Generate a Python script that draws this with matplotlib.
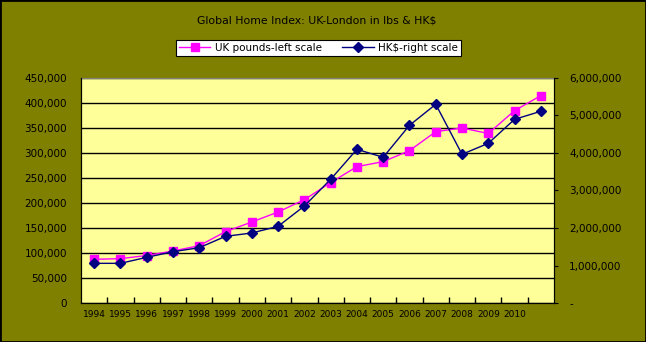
import matplotlib
matplotlib.use("Agg")
import matplotlib.pyplot as plt
import matplotlib.ticker as mticker
from matplotlib.patches import Rectangle

# ── data ─────────────────────────────────────────────────────
years = ['1994', '1995', '1996', '1997', '1998', '1999', '2000', '2001', '2002',
         '2003', '2004', '2005', '2006', '2007', '2008', '2009', '2010', '']
uk_pounds = [87400, 88700, 95000, 104000, 114700, 142700, 162000, 182000, 206700,
             240700, 272700, 282700, 304700, 342700, 350000, 339000, 384700, 414700]
hk_dollars = [1058000, 1058000, 1218000, 1368000, 1475000, 1778000, 1867000, 2045000,
              2587000, 3298000, 4098000, 3885000, 4738000, 5298000, 3965000, 4258000,
              4898000, 5112000]

x = list(range(len(years)))

fig = plt.figure(figsize=(6.46, 3.42), dpi=100, facecolor='#808000')
ax = fig.add_axes([0.1254, 0.114, 0.7322, 0.658])
ax.set_facecolor('#FFFF99')

# left scale
ax.plot(x, uk_pounds, color='#FF00FF', marker='s', markersize=5.5, linewidth=1,
        label='UK pounds-left scale', zorder=3)
ax.set_ylim(0, 450000)
ax.set_yticks(range(0, 450001, 50000))
ax.yaxis.set_major_formatter(mticker.FuncFormatter(lambda v, p: f'{int(v):,}'))
ax.grid(axis='y', color='black', linewidth=1)
ax.tick_params(axis='y', length=0, labelsize=7.5, pad=10)

ax.set_xlim(-0.5, len(years) - 0.5)
ax.set_xticks(x)
ax.set_xticklabels(years)
ax.tick_params(axis='x', length=0, labelsize=6.5, pad=5)
ax.set_xticks([i + 0.5 for i in x[:-1]], minor=True)
ax.tick_params(axis='x', which='minor', direction='in', length=4, width=1)

for s in ['left', 'bottom', 'right']:
    ax.spines[s].set_color('black')
ax.spines['top'].set_color('#808080')

# right scale
ax2 = ax.twinx()
ax2.plot(x, hk_dollars, color='#000080', marker='D', markersize=5, linewidth=1,
         label='HK$-right scale', zorder=3)
ax2.set_ylim(0, 6000000)
ax2.set_yticks(range(0, 6000001, 1000000))
ax2.yaxis.set_major_formatter(
    mticker.FuncFormatter(lambda v, p: '-' if v == 0 else f'{int(v):,}'))
ax2.tick_params(axis='y', length=3, labelsize=7.5, pad=8)
ax2.spines['top'].set_visible(False)

fig.text(0.49, 0.94, 'Global Home Index: UK-London in lbs & HK$',
         ha='center', va='center', fontsize=7.8)

h1, l1 = ax.get_legend_handles_labels()
h2, l2 = ax2.get_legend_handles_labels()
leg = fig.legend(h1 + h2, l1 + l2, loc='center', bbox_to_anchor=(0.493, 0.86),
                 ncol=2, fontsize=7.5, frameon=True, fancybox=False,
                 facecolor='white', framealpha=1, edgecolor='black',
                 handlelength=3, columnspacing=2,
                 borderpad=0.3, handletextpad=0.4)
leg.get_frame().set_linewidth(0.8)

fig.patches.append(Rectangle((0, 0), 1, 1, transform=fig.transFigure,
                             fill=False, edgecolor='black', linewidth=2))

fig.savefig('out.png', dpi=100, facecolor=fig.get_facecolor())
